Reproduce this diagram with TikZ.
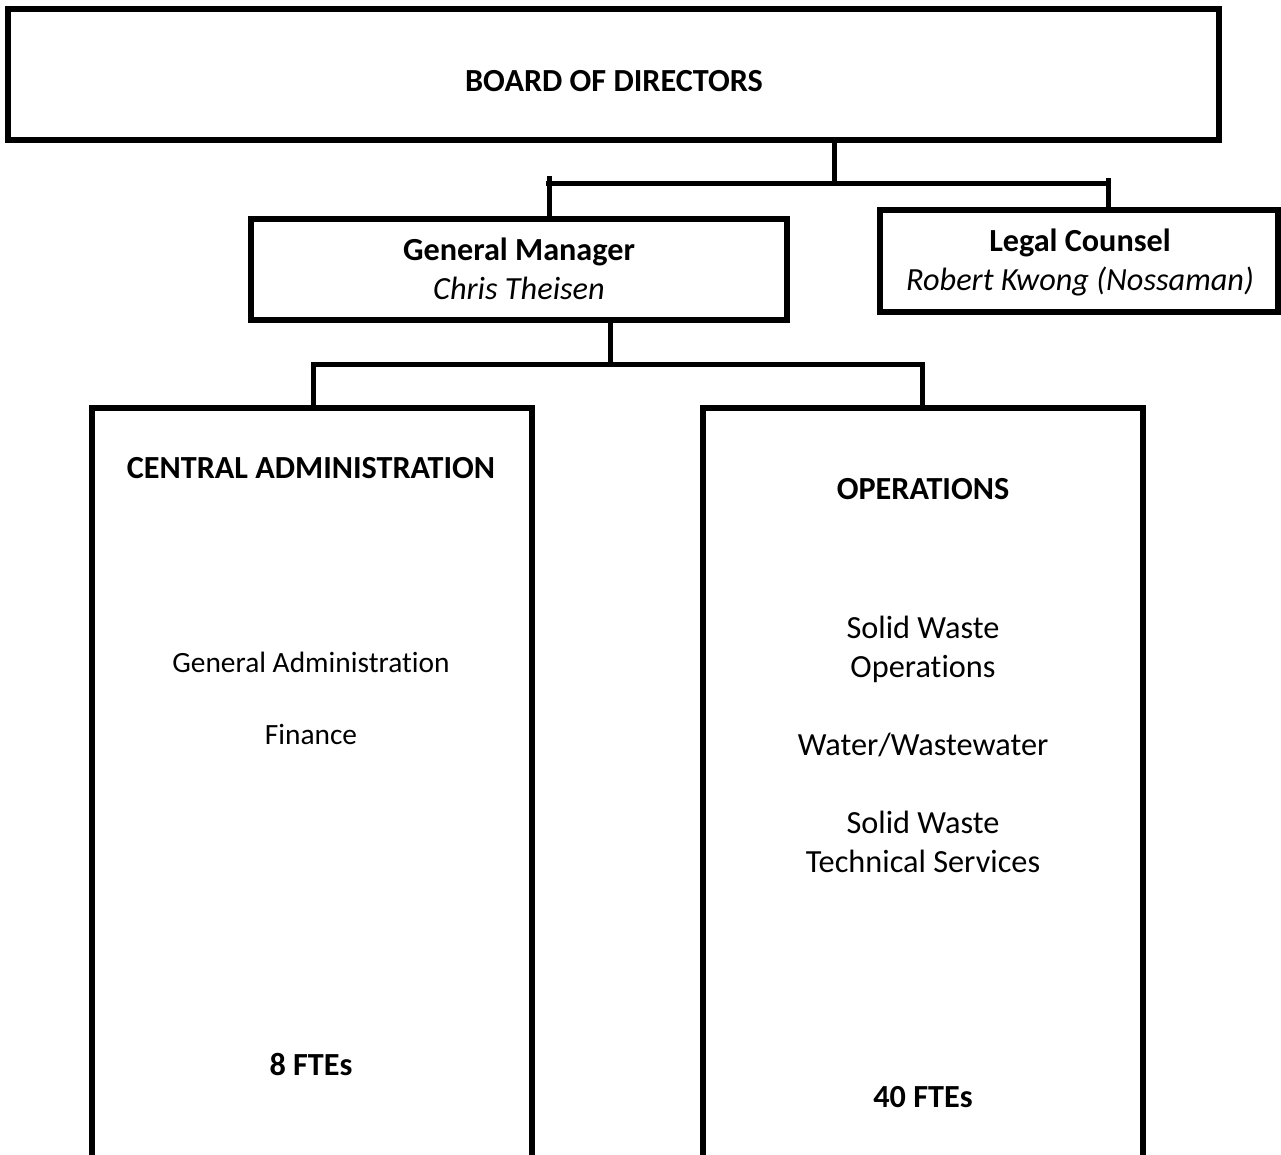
\documentclass[tikz,border=0pt]{standalone}
\usepackage{fontspec}
\setmainfont{Carlito}[Ligatures=NoCommon]
\begin{document}
\begin{tikzpicture}[x=1pt,y=-1pt,
  box/.style={draw,line width=6pt,rectangle,inner sep=0pt,line join=miter},
  openbox/.style={line width=6pt,line join=miter},
  conn/.style={line width=5pt},
  txt/.style={anchor=base,inner sep=0pt,font=\fontsize{32.3}{38}\selectfont},
  btxt/.style={txt,font=\fontsize{32.2}{38}\selectfont\bfseries},
  itxt/.style={txt,font=\fontsize{32.3}{38}\selectfont\itshape},
  stxt/.style={txt,font=\fontsize{29.4}{35}\selectfont}]
\useasboundingbox (0,0) rectangle (1281,1154);
% boxes
\node[box,minimum width=1211pt,minimum height=131pt] (board) at (613.5,74.5) {};
\node[box,minimum width=536pt,minimum height=101pt] (gm) at (519,269.5) {};
\node[box,minimum width=398pt,minimum height=102pt] (legal) at (1079,261) {};
\node[rectangle,inner sep=0pt,minimum width=440pt,minimum height=760pt,anchor=north] (ca) at (312,408) {};
\node[rectangle,inner sep=0pt,minimum width=440pt,minimum height=760pt,anchor=north] (ops) at (923,408) {};
\draw[openbox] (ca.south west) |- (ca.north east) -- (ca.south east);
\draw[openbox] (ops.south west) |- (ops.north east) -- (ops.south east);
% texts
\node[btxt] (tboard) at (614,91) {BOARD OF DIRECTORS};
\node[btxt] (tgm) at (519,260) {General Manager};
\node[itxt] (tgmn) at (519,299) {Chris Theisen};
\node[btxt] (tlegal) at (1080,251) {Legal Counsel};
\node[itxt] (tlegaln) at (1080,290) {Robert Kwong (Nossaman)};
\node[btxt] (tca) at (311,478) {CENTRAL ADMINISTRATION};
\node[stxt] (tga) at (311,672) {General Administration};
\node[stxt] (tfin) at (311,744) {Finance};
\node[btxt] (tca8) at (311,1075) {8 FTEs};
\node[btxt] (tops) at (923,499) {OPERATIONS};
\node[txt] (tsw1) at (923,638) {Solid Waste};
\node[txt] (tsw2) at (923,677) {Operations};
\node[txt] (tww) at (923,755) {Water/Wastewater};
\node[txt] (tts1) at (923,833) {Solid Waste};
\node[txt] (tts2) at (923,872) {Technical Services};
\node[btxt] (tops40) at (923,1107) {40 FTEs};
% connectors
\coordinate (jb) at (834,183);
\coordinate (hl) at (546,183);
\coordinate (hr) at (1111,183);
\coordinate (tl) at (549,176);
\coordinate (tr) at (1108,178);
\draw[conn] (board.south -| jb) -- (jb);
\draw[conn] (hl) -- (hr);
\draw[conn] (gm.north -| tl) -- (tl);
\draw[conn] (legal.north -| tr) -- (tr);
\coordinate (jg) at (610,364);
\draw[conn] (gm.south -| jg) -- (jg);
\draw[conn] (ca.north -| 313,0) |- (jg) -| (ops.north -| 922,0);
\end{tikzpicture}
\end{document}
